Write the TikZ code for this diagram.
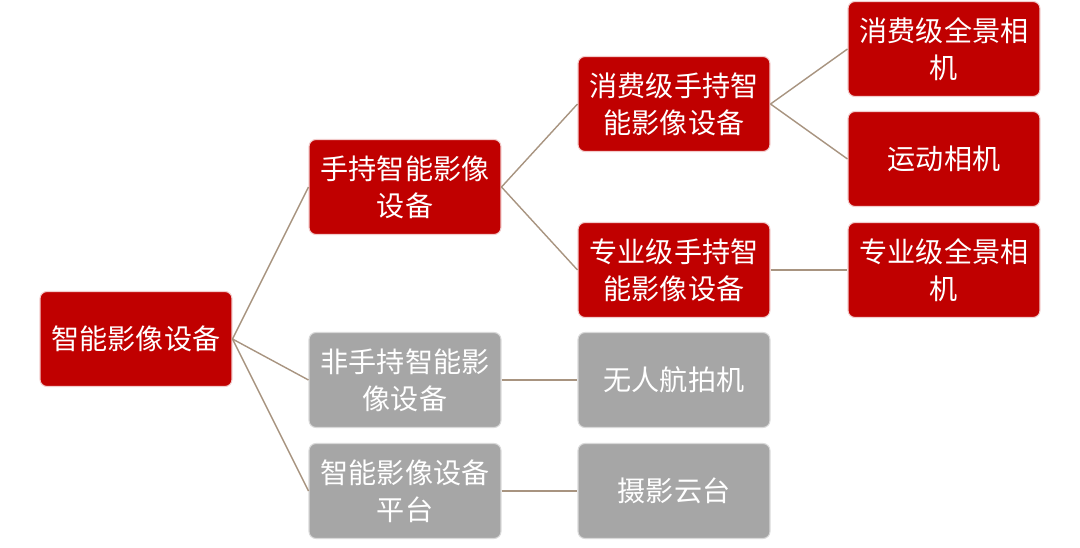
\documentclass[tikz,border=0pt]{standalone}
\usepackage{fontspec}
\newfontfamily\cjk{Noto Sans CJK SC}
\usetikzlibrary{positioning}

\definecolor{boxred}{RGB}{192,0,0}
\definecolor{boxgray}{RGB}{166,166,166}
\definecolor{linkcol}{RGB}{168,148,128}

\begin{document}
\begin{tikzpicture}[x=0.02cm,y=-0.02cm]
  \tikzstyle{box}=[draw=white!80!boxred,line width=0.6pt,rounded corners=4pt,fill=boxred,text=white,minimum width=3.84cm,minimum height=1.9cm,align=center,inner sep=1pt,font=\cjk\fontsize{16}{21}\selectfont]
  \tikzstyle{gbox}=[box,draw=white!85!black,fill=boxgray]
  \tikzstyle{link}=[draw=linkcol,line width=0.8pt]
  \useasboundingbox (0,0) rectangle (1080,548);
  \node[box] (root) at (136,339) {智能影像设备};
  \node[box] (hand) at (405,187) {手持智能影像\\设备};
  \node[gbox] (nonhand) at (405,380) {非手持智能影\\像设备};
  \node[gbox] (plat) at (405,491) {智能影像设备\\平台};
  \node[box] (cons) at (674,104) {消费级手持智\\能影像设备};
  \node[box] (pro) at (674,270) {专业级手持智\\能影像设备};
  \node[gbox] (drone) at (674,380) {无人航拍机};
  \node[gbox] (gimbal) at (674,491) {摄影云台};
  \node[box] (conspano) at (944,49) {消费级全景相\\机};
  \node[box] (action) at (944,159) {运动相机};
  \node[box] (propano) at (944,270) {专业级全景相\\机};
  \draw[link] (root.east) -- (hand.west);
  \draw[link] (root.east) -- (nonhand.west);
  \draw[link] (root.east) -- (plat.west);
  \draw[link] (hand.east) -- (cons.west);
  \draw[link] (hand.east) -- (pro.west);
  \draw[link] (cons.east) -- (conspano.west);
  \draw[link] (cons.east) -- (action.west);
  \draw[link] (pro.east) -- (propano.west);
  \draw[link] (nonhand.east) -- (drone.west);
  \draw[link] (plat.east) -- (gimbal.west);
\end{tikzpicture}
\end{document}
